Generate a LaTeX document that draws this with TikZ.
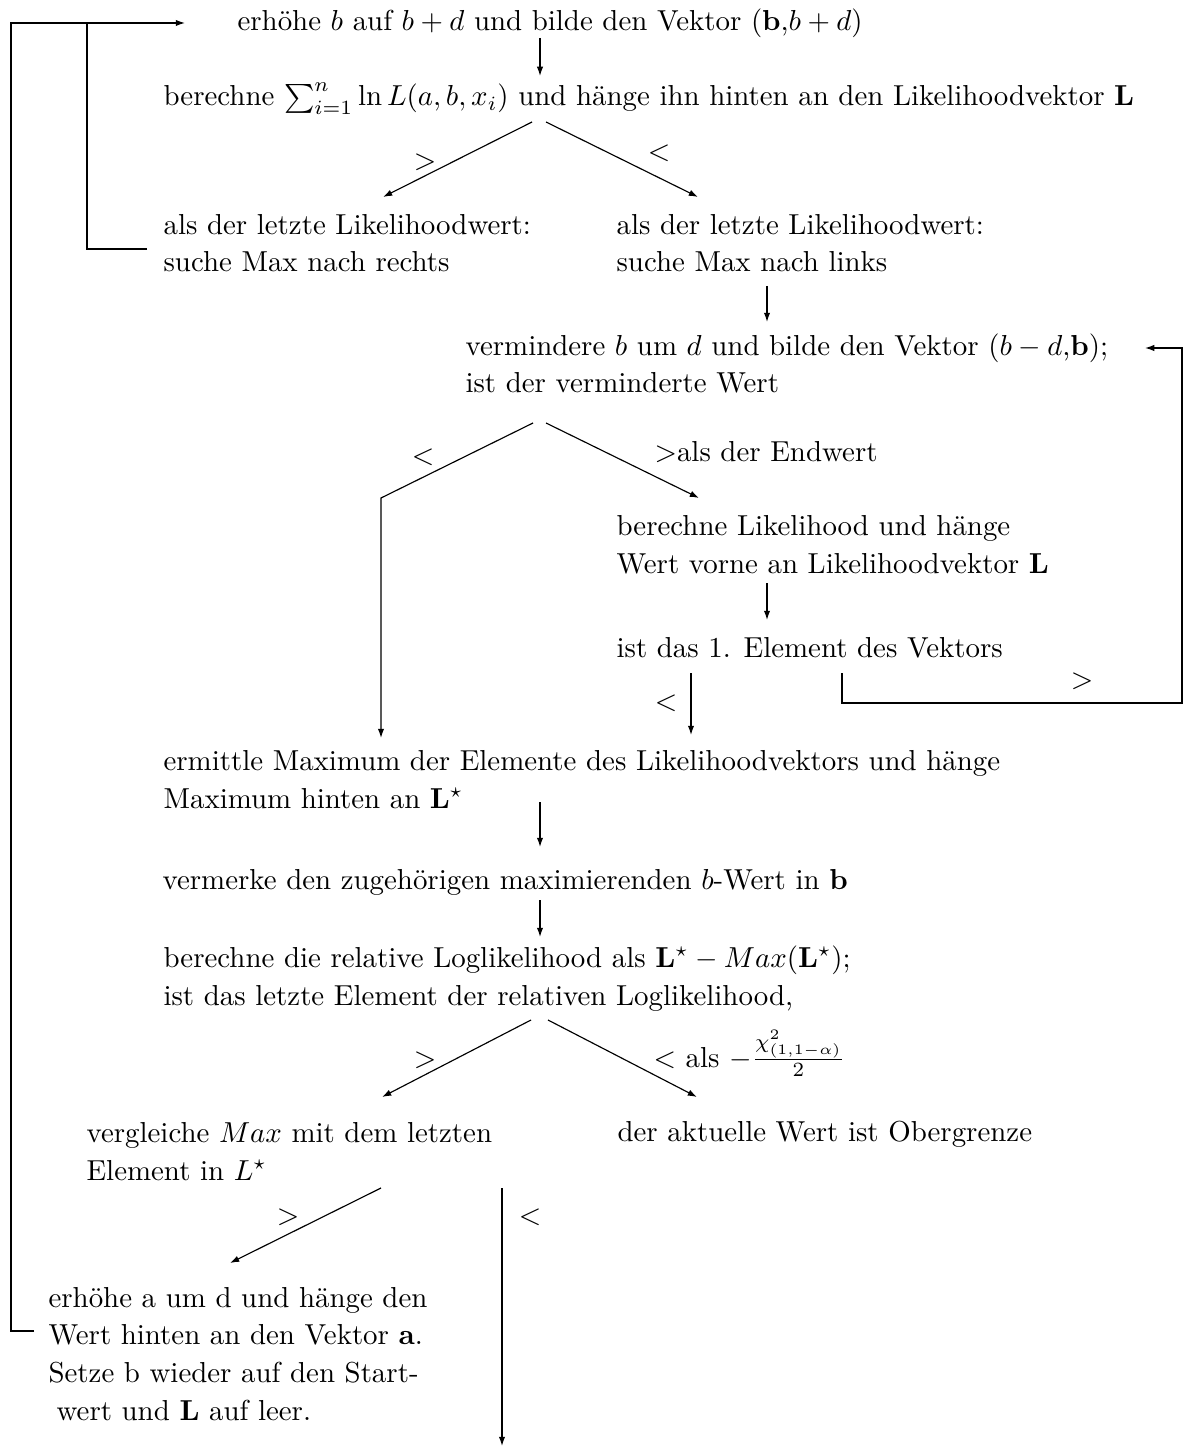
\documentclass[tikz,border=0pt]{standalone}
\usepackage{amsmath, amssymb}
\usetikzlibrary{arrows.meta}

\begin{document}
\begin{tikzpicture}[x=0.3462pt, y=-0.3462pt,
    every node/.style={inner sep=0pt, font=\fontsize{10}{13}\selectfont},
    txt/.style={anchor=base west, align=left},
    rel/.style={anchor=center},
    arr/.style={-{Latex[length=3.2pt,width=2.2pt]}},
    line width=0.4pt]
  \useasboundingbox (0,0) rectangle (1183,1448);

  % text blocks (multi-line nodes sit on the baseline of their last line)
  \node[txt] (erhb) at (237,31) {erhöhe $b$ auf $b+d$ und bilde den Vektor $(\mathbf{b}$,$b+d)$};
  \node[txt] (summe) at (163,106)
    {berechne $\sum_{i=1}^n \ln L(a,b,x_i)$ und hänge ihn hinten an den Likelihoodvektor $\mathbf{L}$};
  \node[txt] (rechts) at (163,272) {als der letzte Likelihoodwert:\\suche Max nach rechts};
  \node[txt] (links) at (616,272) {als der letzte Likelihoodwert:\\suche Max nach links};
  \node[txt] (vermb) at (465,393)
    {vermindere $b$ um $d$ und bilde den Vektor $(b-d$,$\mathbf{b})$;\\ist der verminderte Wert};
  \node[txt] (likv) at (616,573) {berechne Likelihood und hänge\\Wert vorne an Likelihoodvektor $\mathbf{L}$};
  \node[txt] (erstes) at (616,657) {ist das 1. Element des Vektors};
  \node[txt] (ermax) at (163,808)
    {ermittle Maximum der Elemente des Likelihoodvektors und hänge\\Maximum hinten an $\mathbf{L}^\star$};
  \node[txt] (vermk) at (162,889) {vermerke den zugehörigen maximierenden $b$-Wert in $\mathbf{b}$};
  \node[txt] (relll) at (163,1005)
    {berechne die relative Loglikelihood als $\mathbf{L}^\star - Max(\mathbf{L}^\star)$;\\ist das letzte Element der relativen Loglikelihood,};
  \node[txt] (vergl) at (86,1180) {vergleiche $Max$ mit dem letzten\\Element in $L^\star$};
  \node[txt] (obgr) at (617,1141) {der aktuelle Wert ist Obergrenze};
  \node[txt] (erha) at (48,1420)
    {erhöhe a um d und hänge den\\Wert hinten an den Vektor $\mathbf{a}$.\\Setze b wieder auf den Start-\\\hspace*{2.8pt}wert und $\mathbf{L}$ auf leer.};

  % relation labels
  \node[rel] (gta) at (425,162) {$>$};
  \node[rel] (lta) at (659,153) {$<$};
  \node[rel] (ltb) at (423,457) {$<$};
  \node[txt] (gtb) at (654,462) {$>$als der Endwert};
  \node[rel] (gtc) at (1082,681) {$>$};
  \node[rel] (ltc) at (666,703) {$<$};
  \node[rel] (gtd) at (425,1060) {$>$};
  \node[txt] (chi) at (653,1067) {$<$ als $-\frac{\chi^2_{(1,1-\alpha)}}{2}$};
  \node[rel] (gte) at (288,1217) {$>$};
  \node[rel] (lte) at (530,1217) {$<$};

  % connector ends
  \coordinate (a1) at (540,38);   \coordinate (a2) at (540,76);
  \coordinate (b0) at (532,122);  \coordinate (b1) at (383,197);
  \coordinate (c0) at (546,122);  \coordinate (c1) at (698,197);
  \coordinate (d1) at (767,286);  \coordinate (d2) at (767,322);
  \coordinate (e0) at (533,423);  \coordinate (e1) at (381,498);  \coordinate (e2) at (381,738);
  \coordinate (f0) at (546,423);  \coordinate (f1) at (699,498);
  \coordinate (g1) at (767,583);  \coordinate (g2) at (767,620);
  \coordinate (h1) at (842,673);  \coordinate (h2) at (1182,703);  \coordinate (h3) at (1145,348);
  \coordinate (i1) at (691,673);  \coordinate (i2) at (691,735);
  \coordinate (j1) at (540,802);  \coordinate (j2) at (540,847);
  \coordinate (k1) at (540,900);  \coordinate (k2) at (540,937);
  \coordinate (l0) at (531,1020); \coordinate (l1) at (382,1097);
  \coordinate (m0) at (548,1020); \coordinate (m1) at (697,1097);
  \coordinate (n0) at (381,1188); \coordinate (n1) at (230,1263);
  \coordinate (o0) at (502,1188); \coordinate (o1) at (502,1446);
  \coordinate (p0) at (34,1331);  \coordinate (p1) at (11,23);    \coordinate (p2) at (185,23);
  \coordinate (q0) at (147,249);  \coordinate (q1) at (87,23);

  % connectors
  \draw[arr] (a1) -- (a2);
  \draw[arr] (b0) -- (b1);
  \draw[arr] (c0) -- (c1);
  \draw[arr] (d1) -- (d2);
  \draw[arr] (e0) -- (e1) -- (e2);
  \draw[arr] (f0) -- (f1);
  \draw[arr] (g1) -- (g2);
  \draw[arr] (h1) |- (h2) |- (h3);
  \draw[arr] (i1) -- (i2);
  \draw[arr] (j1) -- (j2);
  \draw[arr] (k1) -- (k2);
  \draw[arr] (l0) -- (l1);
  \draw[arr] (m0) -- (m1);
  \draw[arr] (n0) -- (n1);
  \draw[arr] (o0) -- (o1);
  \draw[arr] (p0) -| (p1) -- (p2);
  \draw (q0) -| (q1);
\end{tikzpicture}
\end{document}
